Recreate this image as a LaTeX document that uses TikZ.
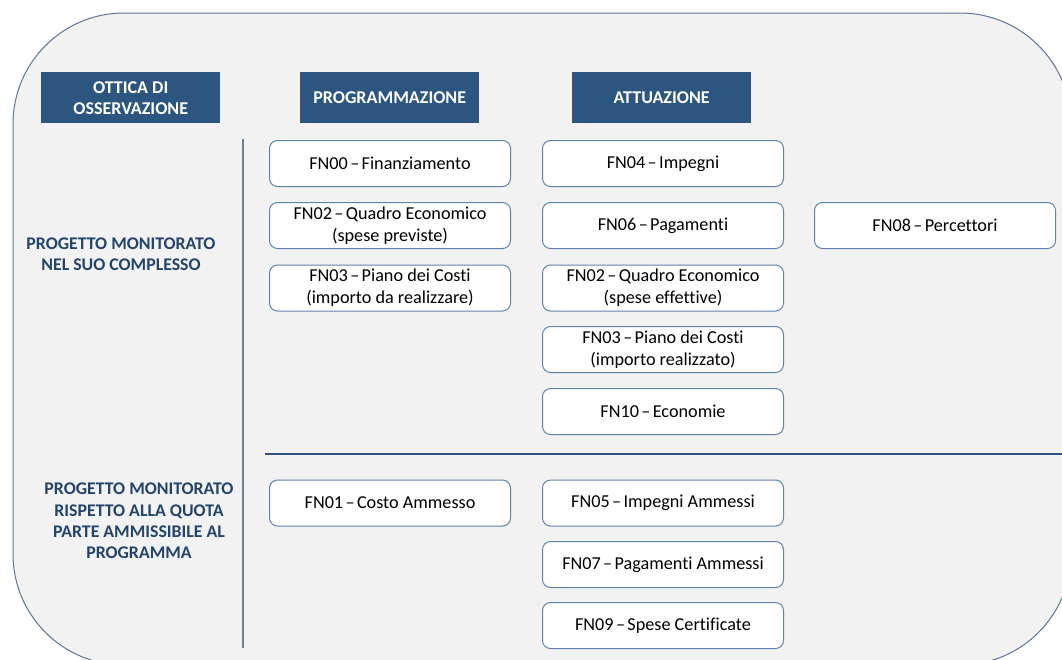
\documentclass[tikz,border=0pt]{standalone}
\usepackage{fontspec}
\setmainfont{Carlito}[Ligatures={NoCommon}]
\definecolor{bgfill}{HTML}{F2F2F2}
\definecolor{outerline}{HTML}{5E7595}
\definecolor{hdrblue}{HTML}{2C5580}
\definecolor{boxline}{HTML}{5F83AD}
\definecolor{labelblue}{HTML}{23446B}
\definecolor{sepline}{HTML}{2E5482}
\definecolor{vline}{HTML}{6E819C}
\newcommand{\fnd}{\hspace{0.13em}--\hspace{0.13em}}
\begin{document}
\begin{tikzpicture}[x=1pt,y=-1pt,
  header/.style={fill=hdrblue, draw=none, text=white, font=\fontsize{18}{21}\selectfont\bfseries, align=center, anchor=north west, inner sep=0pt},
  fnbox/.style={draw=boxline, line width=1pt, fill=white, rounded corners=8pt, minimum width=241pt, minimum height=46pt, anchor=north west, inner sep=0pt, align=center, font=\fontsize{18.2}{22}\selectfont},
  sidelabel/.style={text=labelblue, font=\fontsize{17.8}{21.3}\selectfont\bfseries, align=center}
]
\useasboundingbox (0,0) rectangle (1062,659);
\begin{scope}
\clip (0,0) rectangle (1062,659);
\draw[fill=bgfill, draw=outerline, line width=1pt, rounded corners=111pt] (13,13) rectangle (1071,665);
\end{scope}

% headers
\node[header, minimum width=179pt, minimum height=51pt] (hobs) at (41,72) {OTTICA DI\\OSSERVAZIONE};
\node[header, minimum width=179pt, minimum height=51pt] (hprog) at (300,72) {PROGRAMMAZIONE};
\node[header, minimum width=179pt, minimum height=51pt] (hatt) at (572,72) {ATTUAZIONE};

% separators
\coordinate (vtop) at (243,139);
\coordinate (vbot) at (243,648);
\draw[vline, line width=1.3pt] (vtop) -- (vbot);
\coordinate (hl) at (265,454);
\coordinate (hr) at (1062,454);
\draw[sepline, line width=1.3pt] (hl) -- (hr);

% side labels
\node[sidelabel] (lab1) at (121,254) {PROGETTO MONITORATO\\NEL SUO COMPLESSO};
\node[sidelabel] (lab2) at (139,521) {PROGETTO MONITORATO\\RISPETTO ALLA QUOTA\\PARTE AMMISSIBILE AL\\PROGRAMMA};

% programmazione column
\node[fnbox] (fn00) at (269,140) {FN00\fnd Finanziamento};
\node[fnbox] (fn02p) at (269,202) {FN02\fnd Quadro Economico\\(spese previste)};
\node[fnbox] (fn03p) at (269,264.5) {FN03\fnd Piano dei Costi\\(importo da realizzare)};
\node[fnbox] (fn01) at (269,479.5) {FN01\fnd Costo Ammesso};

% attuazione column
\node[fnbox] (fn04) at (542,140) {FN04\fnd Impegni};
\node[fnbox] (fn06) at (542,202) {FN06\fnd Pagamenti};
\node[fnbox] (fn02a) at (542,264.5) {FN02\fnd Quadro Economico\\(spese effettive)};
\node[fnbox] (fn03a) at (542,326) {FN03\fnd Piano dei Costi\\(importo realizzato)};
\node[fnbox] (fn10) at (542,388) {FN10\fnd Economie};
\node[fnbox] (fn05) at (542,479.5) {FN05\fnd Impegni Ammessi};
\node[fnbox] (fn07) at (542,541) {FN07\fnd Pagamenti Ammessi};
\node[fnbox] (fn09) at (542,602) {FN09\fnd Spese Certificate};

% right
\node[fnbox] (fn08) at (814,202) {FN08\fnd Percettori};
\end{tikzpicture}
\end{document}
